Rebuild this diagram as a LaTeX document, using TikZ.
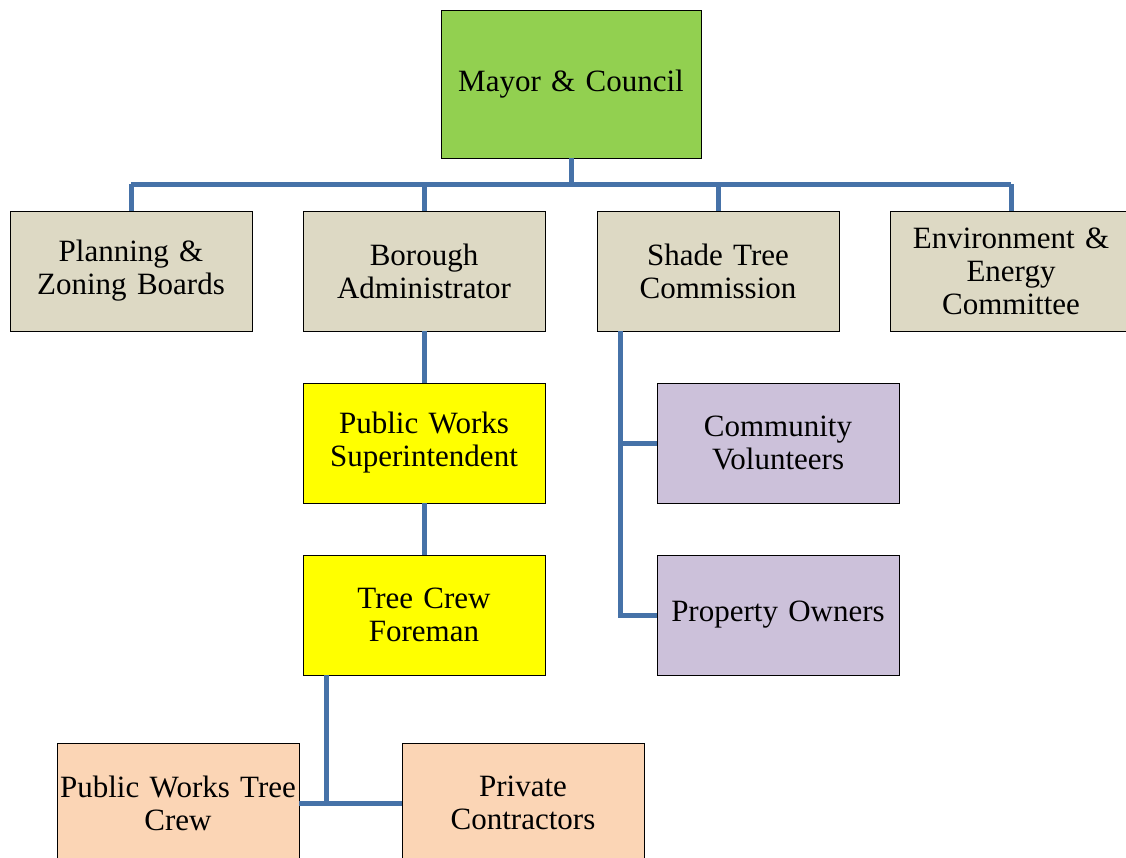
\documentclass[tikz,border=0pt]{standalone}
\usepackage{fontspec}
\setmainfont{Liberation Serif}
\usetikzlibrary{calc}
\definecolor{cgreen}{HTML}{92D050}
\definecolor{ctan}{HTML}{DDD9C4}
\definecolor{cyel}{HTML}{FFFF00}
\definecolor{cpurp}{HTML}{CCC1DA}
\definecolor{cpeach}{HTML}{FBD5B5}
\definecolor{cline}{HTML}{4672A8}
\tikzset{
  box/.style={draw=black, line width=0.8pt, rectangle, minimum width=242pt, minimum height=120pt,
    text width=236pt, align=center, inner sep=0pt, font=\fontsize{31}{33}\selectfont},
  conn/.style={draw=cline, line width=5pt},
}
\begin{document}
\begin{tikzpicture}[x=1pt,y=-1pt]
\useasboundingbox (0,0) rectangle (1126,858);
\clip (0,0) rectangle (1126,858);
\node[box, fill=cgreen, minimum width=260pt, minimum height=148pt] (mayor) at (571,84) {\raisebox{-3pt}{Mayor \& Council}};
\node[box, fill=ctan] (plan) at (131,271) {Planning \&\\Zoning Boards};
\node[box, fill=ctan] (boro) at (424,271) {Borough\\Administrator};
\node[box, fill=ctan] (shade) at (718,271) {Shade Tree\\Commission};
\node[box, fill=ctan] (env) at (1011,271) {Environment \&\\Energy\\Committee};
\node[box, fill=cyel] (pws) at (424,443) {Public Works\\Superintendent};
\node[box, fill=cyel] (fore) at (424,615) {Tree Crew\\Foreman};
\node[box, fill=cpurp] (comm) at (778,443) {Community\\Volunteers};
\node[box, fill=cpurp] (prop) at (778,615) {\raisebox{-3pt}{Property Owners}};
\node[box, fill=cpeach] (crew) at (178,803) {Public Works Tree\\Crew};
\node[box, fill=cpeach] (priv) at (523,803) {Private\\Contractors};
\coordinate (bus) at ($(mayor.south)+(0,26)$);
\coordinate (planbus) at (plan.north |- bus);
\coordinate (envbus) at (env.north |- bus);
\draw[conn] (mayor.south) -- (bus);
\draw[conn] (planbus) -- (envbus);
\draw[conn] (planbus) -- (plan.north);
\draw[conn] (boro.north |- bus) -- (boro.north);
\draw[conn] (shade.north |- bus) -- (shade.north);
\draw[conn] (envbus) -- (env.north);
\draw[conn] (boro.south) -- (pws.north);
\draw[conn] (pws.south) -- (fore.north);
\draw[conn] ($(shade.south west)+(24,0)$) |- (prop.west);
\draw[conn] ($(shade.south west)+(24,0)$) |- (comm.west);
\draw[conn] ($(fore.south west)+(24,0)$) |- (priv.west);
\draw[conn] (crew.east) -- (priv.west);
\end{tikzpicture}
\end{document}
